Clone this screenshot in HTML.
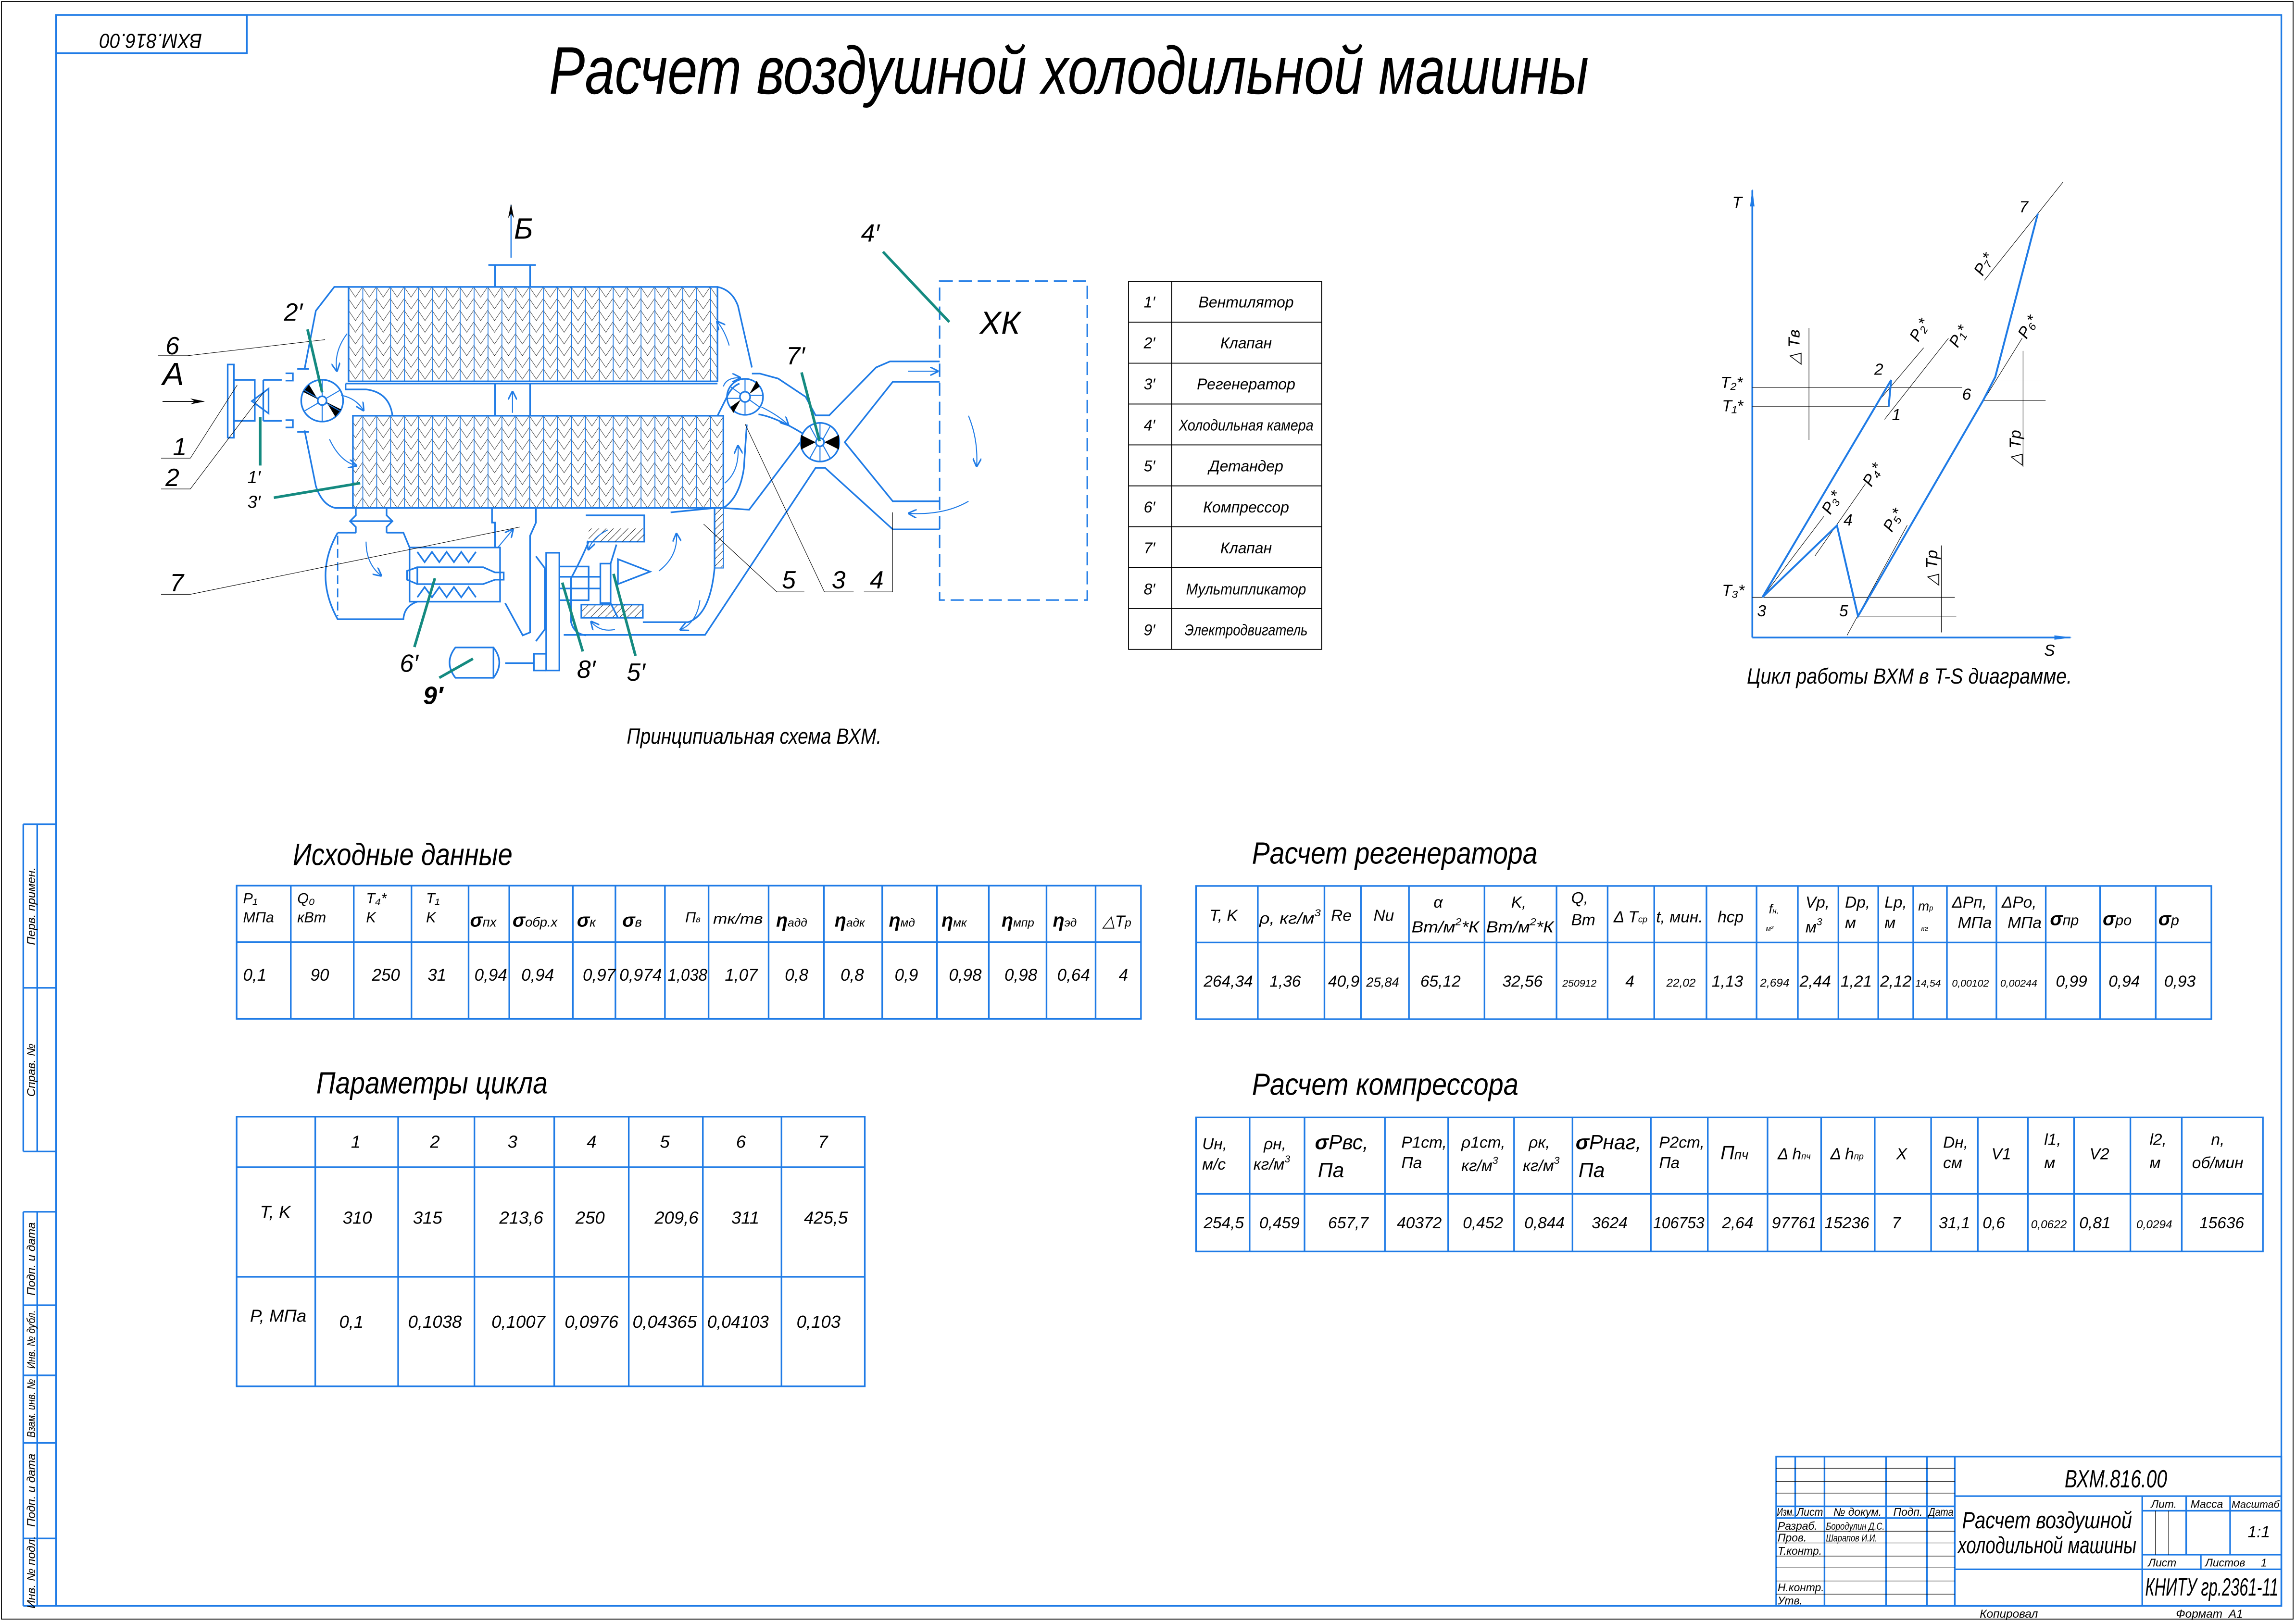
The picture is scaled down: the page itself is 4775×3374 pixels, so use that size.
<!DOCTYPE html>
<html><head><meta charset="utf-8">
<style>
html,body{margin:0;padding:0;background:#fff;}
svg{display:block;}
text{font-family:"Liberation Sans Narrow","Liberation Sans",sans-serif;font-style:italic;fill:#000;}
.w{font-family:"Liberation Sans","DejaVu Sans",sans-serif;}
.b{stroke:#1f7be6;fill:none;stroke-width:1.1;}
.bt{stroke:#1f7be6;fill:none;stroke-width:0.7;}
.k{stroke:#000;fill:none;stroke-width:0.35;}
.g{stroke:#148a80;stroke-width:1.8;fill:none;}
</style></head>
<body>
<svg width="4775" height="3374" viewBox="0 0 1568 1108" preserveAspectRatio="none" xmlns="http://www.w3.org/2000/svg">
<defs>
<pattern id="hx" patternUnits="userSpaceOnUse" width="9.5" height="16" x="238" y="196">
<path d="M0,0 L4.75,7 L9.5,0 M0,8 L4.75,15 L9.5,8 M0,16 L4.75,23 L9.5,16 M0,-8 L4.75,-1 L9.5,-8" stroke="#000" stroke-width="0.25" fill="none"/>
<line x1="0" y1="0" x2="0" y2="16" stroke="#1f7be6" stroke-width="1.1"/>
</pattern>
<pattern id="dh" patternUnits="userSpaceOnUse" width="5" height="5">
<path d="M0,5 L5,0" stroke="#000" stroke-width="0.3"/>
</pattern>
<marker id="ar" markerWidth="6" markerHeight="6" refX="5" refY="3" orient="auto" markerUnits="userSpaceOnUse">
<path d="M0,0 L6,3 L0,6" fill="none" stroke="#1f7be6" stroke-width="1"/>
</marker>
<marker id="ak" markerWidth="10" markerHeight="6" refX="9" refY="3" orient="auto" markerUnits="userSpaceOnUse">
<path d="M0,1 L10,3 L0,5 L3,3 Z" fill="#000"/>
</marker>
<marker id="ab" markerWidth="12" markerHeight="6" refX="11" refY="3" orient="auto" markerUnits="userSpaceOnUse">
<path d="M0,1.5 L12,3 L0,4.5 Z" fill="#1f7be6"/>
</marker>
</defs>

<rect x="1" y="1" width="1565" height="1105" fill="none" stroke="#000" stroke-width="0.6"/>
<rect x="38.3" y="10.2" width="1519.7" height="1086.8" class="b" stroke-width="1.3"/>
<rect x="38.3" y="10.2" width="130.3" height="26.1" class="b" stroke-width="1.3"/>
<text x="103" y="23.5" font-size="14" text-anchor="middle" transform="rotate(180 103 23.3)" textLength="70" lengthAdjust="spacingAndGlyphs">ВХМ.816.00</text>

<g class="b" stroke-width="1.2">
<line x1="15.9" y1="563" x2="15.9" y2="786.6"/><line x1="25.4" y1="563" x2="25.4" y2="786.6"/>
<line x1="15.9" y1="563" x2="38.3" y2="563"/><line x1="15.9" y1="674.8" x2="38.3" y2="674.8"/><line x1="15.9" y1="786.6" x2="38.3" y2="786.6"/>
<line x1="15.9" y1="827.8" x2="15.9" y2="1097"/><line x1="25.4" y1="827.8" x2="25.4" y2="1097"/>
<line x1="15.9" y1="827.8" x2="38.3" y2="827.8"/><line x1="15.9" y1="891.6" x2="38.3" y2="891.6"/><line x1="15.9" y1="939.5" x2="38.3" y2="939.5"/><line x1="15.9" y1="985.6" x2="38.3" y2="985.6"/><line x1="15.9" y1="1050.9" x2="38.3" y2="1050.9"/><line x1="15.9" y1="1097" x2="38.3" y2="1097"/>
</g>
<g font-size="8">
<text transform="translate(24,619) rotate(-90)" text-anchor="middle">Перв. примен.</text>
<text transform="translate(24,731) rotate(-90)" text-anchor="middle">Справ. №</text>
<text transform="translate(24,860) rotate(-90)" text-anchor="middle">Подп. и дата</text>
<text transform="translate(24,915) rotate(-90)" text-anchor="middle" textLength="40" lengthAdjust="spacingAndGlyphs">Инв. № дубл.</text>
<text transform="translate(24,962) rotate(-90)" text-anchor="middle" textLength="40" lengthAdjust="spacingAndGlyphs">Взам. инв. №</text>
<text transform="translate(24,1018) rotate(-90)" text-anchor="middle">Подп. и дата</text>
<text transform="translate(24,1074) rotate(-90)" text-anchor="middle">Инв. № подл.</text>
</g>

<text x="375" y="64" font-size="46" textLength="710" lengthAdjust="spacingAndGlyphs">Расчет воздушной холодильной машины</text>

<!-- SCHEMATIC -->
<rect x="238" y="196" width="252" height="64.5" style="fill:url(#hx)" class="b"/>
<rect x="241" y="284" width="253" height="63" style="fill:url(#hx)" class="b"/>
<path class="b" d="M238,196 L228.3,196 L215.7,212.3 L208,252 M208,294 L215.7,332 Q220,345 229,347 L241,347"/>
<path class="b" d="M490,196 Q500,198 504,209 L513.5,251"/>
<path class="b" d="M494,347 L511.6,348.2 L546.5,302 M494,347 Q505,340 508,320 L510,290"/>
<path class="b" d="M236,262 L490,262 M236,262 L236,266 L250,266 Q266,268 268,284"/>
<path class="b" d="M490,284 L497,270 Q500,264 505,262"/>
<line class="b" x1="338" y1="262" x2="338" y2="284"/><line class="b" x1="362" y1="262" x2="362" y2="284"/>
<line class="bt" x1="350" y1="282" x2="350" y2="268" marker-end="url(#ar)"/>
<path class="b" d="M338,196 L338,181 L362,181 L362,196 M333.5,181 L366,181"/>
<line x1="349" y1="176" x2="349" y2="140" stroke="#1f7be6" stroke-width="0.8" marker-end="url(#ak)"/>
<text x="351" y="163" font-size="20">Б</text>
<rect class="b" x="155.5" y="249" width="4.2" height="50"/>
<path class="b" d="M159.7,259.5 L174,259.5 L174,287.5 L159.7,287.5 M179.8,259.5 L192.4,259.5 M179.8,287.5 L192.4,287.5 M179.8,259.5 L179.8,287.5 M195,255 L200,255 L200,260 L195,260 M195,287 L200,287 L200,292 L195,292 M203,252 L211,252 M203,295 L211,295"/>
<path class="b" d="M183.4,265.5 L172,274 L183.4,282.4 Z"/>
<line x1="111" y1="274.2" x2="139" y2="274.2" stroke="#000" stroke-width="0.6" marker-end="url(#ak)"/>
<text x="111" y="263" font-size="22" font-style="normal">А</text>
<g transform="translate(220,273.7)">
<circle r="14.3" class="b"/><circle r="3" class="b"/>
<path d="M-3,-1 L-13,-6 L-9,-11 Z M3,1 L13,6 L9,11 Z" fill="#000"/>
<path class="bt" d="M0,-3 L0,-14 M2.6,-1.5 L12,-7 M-2.6,1.5 L-12,7 M0,3 L0,14 M-2.6,-1.5 L-12,-7 M2.6,1.5 L12,7"/>
</g>
<g transform="translate(508.8,271.1)">
<circle r="12.3" class="b"/><circle r="3.5" class="b"/>
<path d="M3,-2 L10,-7 L8,-11 Z M-3,2 L-10,7 L-8,11 Z" fill="#000"/>
<path class="bt" d="M0,-3.5 L0,-12 M0,3.5 L0,12 M-3,-2 L-10,-7 M3,2 L10,7 M-3,1 L-12,1 M3,-1 L12,-1"/>
</g>
<path class="b" d="M513.5,255.2 L519,255.2 L531.4,258.6 L550.2,271.1 L557,283.7 L566.3,283.7 L598.3,251 L607.8,246.9 L641.7,246.9"/>
<path class="b" d="M518,283 Q530,285 548,296"/>
<g transform="translate(560,302.1)">
<circle r="13.2" class="b"/><circle r="2.8" class="b"/>
<path d="M-3,0 L-13,-5 L-13,5 Z M3,0 L13,-5 L13,5 Z" fill="#000"/>
<path class="bt" d="M0,2.8 L0,13 M-2,2 L-7,11 M2,2 L7,11 M0,-2.8 L0,-13 M-2,-2 L-7,-11 M2,-2 L7,-11"/>
</g>
<path class="b" d="M641.7,260.8 L609.7,260.8 L576.9,302.1 L609.7,342.4 L641.7,342.4"/>
<path class="b" d="M641.7,361.6 L609.7,361.6 L563.5,319.6 L557,319.6 L481.5,433.7 L385,433.7"/>
<rect x="641.7" y="192" width="100.8" height="217.9" fill="none" stroke="#1f7be6" stroke-width="1" stroke-dasharray="9,4"/>
<text x="669" y="228" font-size="22">ХК</text>
<line class="bt" x1="620" y1="253.6" x2="640" y2="253.6" marker-end="url(#ar)"/>
<path class="bt" d="M661.4,284 Q668,300 667,318" marker-end="url(#ar)"/>
<path class="bt" d="M661.4,342.4 Q645,352 621,350.7" marker-end="url(#ar)"/>
<path class="bt" d="M237,228 Q228,240 230,253" marker-end="url(#ar)"/>
<path class="bt" d="M225,300 Q232,315 243,318" marker-end="url(#ar)"/>
<path class="bt" d="M233,270 Q243,272 248,280" marker-end="url(#ar)"/>
<path class="bt" d="M498,236 Q495,226 490,220" marker-end="url(#ar)"/>
<path class="bt" d="M494,264 Q496,258 505,258" marker-end="url(#ar)"/>
<path class="bt" d="M520,278 Q532,284 538,290" marker-end="url(#ar)"/>
<path class="bt" d="M495,330 Q505,322 504,305" marker-end="url(#ar)"/>
<path class="b" d="M243,347 L243,352 L239,356 L243,360 L243,364 M264,347 L264,352 L268,356 L264,360 L264,364 M239,356 L268,356"/>
<path class="b" d="M230.6,363.9 L243,363.9 M264,363.9 L275.5,363.9 L279.7,374 M230.6,363.9 Q214,393 230.6,423 L275.5,423 Q276,414 285,411"/>
<line x1="230.6" y1="366" x2="230.6" y2="421" stroke="#1f7be6" stroke-width="0.9" stroke-dasharray="6,3"/>
<path class="bt" d="M250,370 Q250,385 260,393" marker-end="url(#ar)"/>
<rect class="b" x="279.7" y="374" width="61.8" height="37"/>
<path class="b" d="M285,377 L290,384 L295,377 L300,384 L305,377 L310,384 L315,377 L320,384 L325,377 M285,408 L290,401 L295,408 L300,401 L305,408 L310,401 L315,408 L320,401 L325,408"/>
<path class="b" d="M285,387.5 L330,387.5 L338,391 L344,391 L344,396 L338,396 L330,399 L285,399 Z M285,387.5 L278,390 L278,396 L285,399"/>
<path class="b" d="M336,347 L336,357 L338,357 L338,374 M366,347 L366,357 L362,366 L362,432 L357,434 L345,412"/>
<path class="bt" d="M340,374 Q345,368 350,362" marker-end="url(#ar)"/>
<rect class="b" x="373" y="377.6" width="9" height="80.4"/>
<path class="b" d="M373,446.6 L364.6,446.6 L364.6,458 L373,458"/>
<path class="b" d="M366,380 L372,388 L372,430 L366,438"/>
<path class="b" d="M311,442.3 L337,442.3 Q345,452.6 337,463 L311,463 Q303,452.6 311,442.3 Z M337,442.3 L337,463"/>
<line class="b" x1="345" y1="453" x2="364.6" y2="453"/>
<path class="b" d="M400,352 L440,352 L440,370 L402,370 Q398,380 390,395 L390,425 Q392,433 400,434"/>
<rect x="402" y="361" width="38" height="9" style="fill:url(#dh)" stroke="none"/>
<rect x="397" y="413" width="42" height="9" style="fill:url(#dh)" class="b"/>
<path class="b" d="M382,387 L402,387 L402,410 L382,410 M382,394 L410,394 M382,402 L410,402"/>
<rect class="b" x="410" y="385" width="7" height="27"/>
<path class="b" d="M422,382 L444,390.5 L422,399 Z"/>
<path class="b" d="M417,385 L421,372 M417,412 L422,422"/>
<path class="b" d="M458,350 L488,347 L488,388 Q485,420 470,425 L439,425"/>
<rect x="488" y="347" width="6" height="41" style="fill:url(#dh)" class="bt"/>
<path class="bt" d="M415,362 Q405,367 402,375" marker-end="url(#ar)"/>
<path class="bt" d="M450,390 Q463,380 462,365" marker-end="url(#ar)"/>
<path class="bt" d="M420,430 Q410,432 404,425" marker-end="url(#ar)"/>
<path class="bt" d="M478,410 Q476,425 465,430" marker-end="url(#ar)"/>
<g class="k">
<path d="M108,243 L128,243 L222,232"/>
<path d="M110,313 L130,313 L162,263"/>
<path d="M110,334 L130,334 L180,268"/>
<path d="M110,406 L130,406 L355,360"/>
<path d="M530.5,404.3 L549.3,404.3 M530.5,404.3 L480.5,358"/>
<path d="M563,404.3 L583,404.3 M563,404.3 L508.8,289.6"/>
<path d="M590,404.3 L609.6,404.3 L609.6,350"/>
</g>
<g class="g">
<line x1="210" y1="225" x2="220" y2="268"/>
<line x1="177.7" y1="285" x2="177.7" y2="318"/>
<line x1="187" y1="340" x2="246" y2="330"/>
<line x1="547.4" y1="254.4" x2="559.7" y2="301.4"/>
<line x1="603" y1="172" x2="648.3" y2="220"/>
<line x1="283" y1="442" x2="297" y2="395"/>
<line x1="300" y1="463" x2="323" y2="450"/>
<line x1="398" y1="445" x2="384" y2="398"/>
<line x1="434" y1="448" x2="419" y2="392"/>
</g>
<g font-size="17">
<text x="113" y="242">6</text>
<text x="118" y="311">1</text>
<text x="113" y="332">2</text>
<text x="116" y="404">7</text>
<text x="534" y="402">5</text>
<text x="568" y="402">3</text>
<text x="594" y="402">4</text>
<text x="194" y="219">2′</text>
<text x="537" y="249">7′</text>
<text x="588" y="165">4′</text>
<text x="273" y="459">6′</text>
<text x="394" y="463">8′</text>
<text x="428" y="465">5′</text>
<text x="289" y="481" font-weight="bold">9′</text>
</g>
<g font-size="12">
<text x="169" y="330">1′</text>
<text x="169" y="347">3′</text>
</g>
<text x="428" y="508" font-size="15" textLength="174" lengthAdjust="spacingAndGlyphs">Принципиальная схема ВХМ.</text>

<!-- legend -->
<g stroke="#000" stroke-width="0.6" fill="none">
<rect x="770.7" y="192.2" width="131.9" height="251.4"/>
<line x1="800.2" y1="192.2" x2="800.2" y2="443.6"/>
<line x1="770.7" y1="220.1" x2="902.6" y2="220.1"/><line x1="770.7" y1="248.1" x2="902.6" y2="248.1"/><line x1="770.7" y1="276" x2="902.6" y2="276"/><line x1="770.7" y1="303.9" x2="902.6" y2="303.9"/><line x1="770.7" y1="331.9" x2="902.6" y2="331.9"/><line x1="770.7" y1="359.8" x2="902.6" y2="359.8"/><line x1="770.7" y1="387.7" x2="902.6" y2="387.7"/><line x1="770.7" y1="415.7" x2="902.6" y2="415.7"/>
</g>
<g font-size="10.5" class="w" text-anchor="middle">
<text x="785" y="210">1′</text><text x="851" y="210">Вентилятор</text>
<text x="785" y="238">2′</text><text x="851" y="238">Клапан</text>
<text x="785" y="266">3′</text><text x="851" y="266">Регенератор</text>
<text x="785" y="294">4′</text><text x="851" y="294" textLength="92" lengthAdjust="spacingAndGlyphs">Холодильная камера</text>
<text x="785" y="322">5′</text><text x="851" y="322">Детандер</text>
<text x="785" y="350">6′</text><text x="851" y="350">Компрессор</text>
<text x="785" y="378">7′</text><text x="851" y="378">Клапан</text>
<text x="785" y="406">8′</text><text x="851" y="406" textLength="82" lengthAdjust="spacingAndGlyphs">Мультипликатор</text>
<text x="785" y="434">9′</text><text x="851" y="434" textLength="84" lengthAdjust="spacingAndGlyphs">Электродвигатель</text>
</g>

<!-- T-S -->
<line x1="1196.7" y1="435.5" x2="1196.7" y2="130" stroke="#1f7be6" stroke-width="1.2" marker-end="url(#ab)"/>
<line x1="1196.7" y1="435.5" x2="1414" y2="435.5" stroke="#1f7be6" stroke-width="1.2" marker-end="url(#ab)"/>
<g class="k" stroke-width="0.4">
<line x1="1196.7" y1="264.8" x2="1340" y2="264.8"/>
<line x1="1196.7" y1="277.8" x2="1289.8" y2="277.8"/>
<line x1="1291.5" y1="259.6" x2="1394" y2="259.6"/>
<line x1="1354.3" y1="273.6" x2="1397" y2="273.6"/>
<line x1="1196.7" y1="408" x2="1335" y2="408"/>
<line x1="1268.9" y1="420.9" x2="1336" y2="420.9"/>
<line x1="1235.4" y1="224" x2="1235.4" y2="300.5"/>
<line x1="1381.6" y1="239.7" x2="1381.6" y2="319"/>
<line x1="1325.8" y1="372.6" x2="1325.8" y2="432"/>
<line x1="1281.9" y1="275.2" x2="1313.7" y2="237.6"/>
<line x1="1287" y1="286.5" x2="1330.7" y2="231"/>
<line x1="1355.2" y1="191.5" x2="1408.8" y2="124.5"/>
<line x1="1354.3" y1="274" x2="1381" y2="231"/>
<line x1="1203.6" y1="408" x2="1245.5" y2="352.8"/>
<line x1="1239.6" y1="379.6" x2="1274" y2="330.4"/>
<line x1="1261.4" y1="434" x2="1302.5" y2="358.8"/>
</g>
<path d="M1203.6,408 L1291.5,259.6 L1289.8,277.8 M1203.6,408 L1254.5,359 L1268.9,420.9 L1354.3,273.6 L1362.6,257.5 L1391.7,145.9" fill="none" stroke="#1f7be6" stroke-width="1.3"/>
<g font-size="11">
<text x="1183" y="142">T</text>
<text x="1175" y="265">T₂*</text>
<text x="1176" y="281">T₁*</text>
<text x="1176" y="407">T₃*</text>
<text x="1280" y="256">2</text>
<text x="1292" y="287">1</text>
<text x="1340" y="273">6</text>
<text x="1379" y="145">7</text>
<text x="1259" y="359">4</text>
<text x="1200" y="421">3</text>
<text x="1256" y="421">5</text>
<text x="1396" y="448">S</text>
<text transform="translate(1229,249) rotate(-90)">△ Tв</text>
<text transform="translate(1380,318) rotate(-90)">△ Tр</text>
<text transform="translate(1323,400) rotate(-90)">△ Tр</text>
<text transform="translate(1310,234) rotate(-60)">P₂*</text>
<text transform="translate(1337,238) rotate(-60)">P₁*</text>
<text transform="translate(1354,189) rotate(-60)">P₇*</text>
<text transform="translate(1384,232) rotate(-60)">P₆*</text>
<text transform="translate(1250,352) rotate(-60)">P₃*</text>
<text transform="translate(1278,333) rotate(-60)">P₄*</text>
<text transform="translate(1292,364) rotate(-60)">P₅*</text>
</g>
<text x="1193" y="467" font-size="15" textLength="222" lengthAdjust="spacingAndGlyphs">Цикл работы ВХМ в T-S диаграмме.</text>

<!-- TABLE 1 -->
<text x="200" y="591" font-size="21" textLength="150" lengthAdjust="spacingAndGlyphs">Исходные данные</text>
<g class="b" stroke-width="1.1">
<rect x="161.6" y="605" width="617.6" height="91"/>
<line x1="161.6" y1="643.6" x2="779.2" y2="643.6"/>
<path d="M198.6,605V696 M241.6,605V696 M281,605V696 M320,605V696 M347.8,605V696 M391.2,605V696 M420.3,605V696 M454.1,605V696 M483.9,605V696 M524.9,605V696 M562.7,605V696 M602.5,605V696 M639.9,605V696 M675.3,605V696 M714.7,605V696 M748.2,605V696"/>
</g>
<g font-size="10">
<text x="166" y="617">P₁</text><text x="166" y="630">МПа</text>
<text x="203" y="617">Q₀</text><text x="203" y="630">кВт</text>
<text x="250" y="617">T₄*</text><text x="250" y="630">K</text>
<text x="291" y="617">T₁</text><text x="291" y="630">K</text>
<text x="468" y="630">П<tspan font-size="6">в</tspan></text>
<text x="487" y="631" textLength="34" lengthAdjust="spacingAndGlyphs">mк/mв</text>
</g>
<g font-size="13">
<text x="321" y="633"><tspan font-weight="bold">σ</tspan><tspan font-size="9">пх</tspan></text>
<text x="350" y="633"><tspan font-weight="bold">σ</tspan><tspan font-size="9">обр.х</tspan></text>
<text x="394" y="633"><tspan font-weight="bold">σ</tspan><tspan font-size="9">к</tspan></text>
<text x="425" y="633"><tspan font-weight="bold">σ</tspan><tspan font-size="9">в</tspan></text>
<text x="530" y="633"><tspan font-weight="bold">η</tspan><tspan font-size="8">адд</tspan></text>
<text x="570" y="633"><tspan font-weight="bold">η</tspan><tspan font-size="8">адк</tspan></text>
<text x="607" y="633"><tspan font-weight="bold">η</tspan><tspan font-size="8">мд</tspan></text>
<text x="643" y="633"><tspan font-weight="bold">η</tspan><tspan font-size="8">мк</tspan></text>
<text x="684" y="633"><tspan font-weight="bold">η</tspan><tspan font-size="8">мпр</tspan></text>
<text x="719" y="633"><tspan font-weight="bold">η</tspan><tspan font-size="8">эд</tspan></text>
<text x="753" y="633" font-size="11">△T<tspan font-size="8">р</tspan></text>
</g>
<g font-size="11.5">
<text x="166" y="670">0,1</text><text x="212" y="670">90</text><text x="254" y="670">250</text><text x="292" y="670">31</text>
<text x="324" y="670">0,94</text><text x="356" y="670">0,94</text><text x="398" y="670">0,97</text><text x="423" y="670" textLength="29" lengthAdjust="spacingAndGlyphs">0,974</text>
<text x="456" y="670" textLength="27" lengthAdjust="spacingAndGlyphs">1,038</text><text x="495" y="670">1,07</text><text x="536" y="670">0,8</text><text x="574" y="670">0,8</text>
<text x="611" y="670">0,9</text><text x="648" y="670">0,98</text><text x="686" y="670">0,98</text><text x="722" y="670">0,64</text><text x="764" y="670">4</text>
</g>

<!-- TABLE 2 -->
<text x="216" y="747" font-size="21" textLength="158" lengthAdjust="spacingAndGlyphs">Параметры цикла</text>
<g class="b" stroke-width="1.1">
<rect x="161.6" y="762.8" width="429" height="184.2"/>
<line x1="161.6" y1="797.3" x2="590.6" y2="797.3"/><line x1="161.6" y1="872.2" x2="590.6" y2="872.2"/>
<path d="M215.3,762.8V947 M271.9,762.8V947 M324,762.8V947 M378.5,762.8V947 M429.4,762.8V947 M480,762.8V947 M533.7,762.8V947"/>
</g>
<g font-size="12" text-anchor="middle">
<text x="243" y="784">1</text><text x="297" y="784">2</text><text x="350" y="784">3</text><text x="404" y="784">4</text><text x="454" y="784">5</text><text x="506" y="784">6</text><text x="562" y="784">7</text>
<text x="188" y="832">T, K</text>
<text x="244" y="836">310</text><text x="292" y="836">315</text><text x="356" y="836">213,6</text><text x="403" y="836">250</text><text x="462" y="836">209,6</text><text x="509" y="836">311</text><text x="564" y="836">425,5</text>
<text x="190" y="903">P, МПа</text>
<text x="240" y="907">0,1</text><text x="297" y="907">0,1038</text><text x="354" y="907">0,1007</text><text x="404" y="907">0,0976</text><text x="454" y="907" textLength="44" lengthAdjust="spacingAndGlyphs">0,04365</text><text x="504" y="907" textLength="42" lengthAdjust="spacingAndGlyphs">0,04103</text><text x="559" y="907">0,103</text>
</g>

<!-- TABLE 3 -->
<text x="855" y="590" font-size="21" textLength="195" lengthAdjust="spacingAndGlyphs">Расчет регенератора</text>
<g class="b" stroke-width="1.1">
<rect x="816.8" y="605.2" width="693.4" height="91"/>
<line x1="816.8" y1="643.8" x2="1510.2" y2="643.8"/>
<path d="M859,605.2V696.2 M904.5,605.2V696.2 M929.4,605.2V696.2 M962.2,605.2V696.2 M1013.8,605.2V696.2 M1063,605.2V696.2 M1097.9,605.2V696.2 M1129.7,605.2V696.2 M1165.4,605.2V696.2 M1199.6,605.2V696.2 M1227.8,605.2V696.2 M1255.5,605.2V696.2 M1282.7,605.2V696.2 M1306.6,605.2V696.2 M1329.6,605.2V696.2 M1363.4,605.2V696.2 M1397.1,605.2V696.2 M1434.2,605.2V696.2 M1472.2,605.2V696.2"/>
</g>
<g font-size="11">
<text x="826" y="629">T, K</text>
<text x="860" y="631" textLength="42" lengthAdjust="spacingAndGlyphs">ρ, кг/м<tspan font-size="7" dy="-5">3</tspan></text>
<text x="909" y="629">Re</text>
<text x="938" y="629">Nu</text>
<text x="979" y="620">α</text><text x="964" y="637" textLength="46" lengthAdjust="spacingAndGlyphs">Вт/м<tspan font-size="7" dy="-5">2</tspan><tspan dy="5">*К</tspan></text>
<text x="1032" y="620">K,</text><text x="1015" y="637" textLength="46" lengthAdjust="spacingAndGlyphs">Вт/м<tspan font-size="7" dy="-5">2</tspan><tspan dy="5">*К</tspan></text>
<text x="1073" y="617">Q,</text><text x="1073" y="632">Вт</text>
<text x="1102" y="630">Δ T<tspan font-size="6">ср</tspan></text>
<text x="1131" y="630" textLength="32" lengthAdjust="spacingAndGlyphs">t, мин.</text>
<text x="1173" y="630">hср</text>
<text x="1208" y="624" font-size="9">f<tspan font-size="5">н,</tspan></text><text x="1206" y="636" font-size="5">м²</text>
<text x="1233" y="620">Vр,</text><text x="1233" y="637">м<tspan font-size="7" dy="-5">3</tspan></text>
<text x="1260" y="620">Dр,</text><text x="1260" y="634">м</text>
<text x="1287" y="620">Lр,</text><text x="1287" y="634">м</text>
<text x="1310" y="622" font-size="9">m<tspan font-size="5">р</tspan></text><text x="1312" y="636" font-size="5">кг</text>
<text x="1333" y="620">ΔPп,</text><text x="1337" y="634">МПа</text>
<text x="1367" y="620">ΔPо,</text><text x="1371" y="634">МПа</text>
<text x="1400" y="632" font-size="13"><tspan font-weight="bold">σ</tspan><tspan font-size="10">пр</tspan></text>
<text x="1436" y="632" font-size="13"><tspan font-weight="bold">σ</tspan><tspan font-size="10">ро</tspan></text>
<text x="1474" y="632" font-size="13"><tspan font-weight="bold">σ</tspan><tspan font-size="10">р</tspan></text>
</g>
<g font-size="11">
<text x="822" y="674">264,34</text><text x="867" y="674">1,36</text><text x="907" y="674">40,9</text><text x="933" y="674" font-size="9">25,84</text>
<text x="970" y="674">65,12</text><text x="1026" y="674">32,56</text><text x="1067" y="674" font-size="7">250912</text><text x="1110" y="674">4</text>
<text x="1138" y="674" font-size="8">22,02</text><text x="1169" y="674">1,13</text><text x="1202" y="674" font-size="8">2,694</text><text x="1229" y="674">2,44</text>
<text x="1257" y="674">1,21</text><text x="1284" y="674">2,12</text><text x="1308" y="674" font-size="7">14,54</text><text x="1333" y="674" font-size="7">0,00102</text>
<text x="1366" y="674" font-size="7">0,00244</text><text x="1404" y="674">0,99</text><text x="1440" y="674">0,94</text><text x="1478" y="674">0,93</text>
</g>

<!-- TABLE 4 -->
<text x="855" y="748" font-size="21" textLength="182" lengthAdjust="spacingAndGlyphs">Расчет компрессора</text>
<g class="b" stroke-width="1.1">
<rect x="816.8" y="763.3" width="728.6" height="91.6"/>
<line x1="816.8" y1="815.5" x2="1545.4" y2="815.5"/>
<path d="M853.4,763.3V854.9 M890.9,763.3V854.9 M945.8,763.3V854.9 M989,763.3V854.9 M1034,763.3V854.9 M1073.9,763.3V854.9 M1127.4,763.3V854.9 M1166.3,763.3V854.9 M1207.1,763.3V854.9 M1243.7,763.3V854.9 M1280.3,763.3V854.9 M1318.8,763.3V854.9 M1350.7,763.3V854.9 M1384.9,763.3V854.9 M1416.4,763.3V854.9 M1454.9,763.3V854.9 M1490,763.3V854.9"/>
</g>
<g font-size="11">
<text x="821" y="785">Uн,</text><text x="821" y="799">м/с</text>
<text x="863" y="785">ρн,</text><text x="856" y="799">кг/м<tspan font-size="7" dy="-5">3</tspan></text>
<text x="898" y="785" font-size="14"><tspan font-weight="bold">σ</tspan>Pвс,</text><text x="900" y="804" font-size="14">Па</text>
<text x="957" y="784">P1ст,</text><text x="957" y="798">Па</text>
<text x="998" y="784">ρ1ст,</text><text x="998" y="800">кг/м<tspan font-size="7" dy="-5">3</tspan></text>
<text x="1044" y="784">ρк,</text><text x="1040" y="800">кг/м<tspan font-size="7" dy="-5">3</tspan></text>
<text x="1076" y="785" font-size="14"><tspan font-weight="bold">σ</tspan>Pнаг,</text><text x="1078" y="804" font-size="14">Па</text>
<text x="1133" y="784">P2ст,</text><text x="1133" y="798">Па</text>
<text x="1175" y="792" font-size="13">П<tspan font-size="9">пч</tspan></text>
<text x="1214" y="792">Δ h<tspan font-size="6">пч</tspan></text>
<text x="1250" y="792">Δ h<tspan font-size="6">пр</tspan></text>
<text x="1295" y="792">X</text>
<text x="1327" y="784">Dн,</text><text x="1327" y="798">см</text>
<text x="1360" y="792">V1</text>
<text x="1396" y="782">l1,</text><text x="1396" y="798">м</text>
<text x="1427" y="792">V2</text>
<text x="1468" y="782">l2,</text><text x="1468" y="798">м</text>
<text x="1510" y="782">n,</text><text x="1497" y="798">об/мин</text>
</g>
<g font-size="11">
<text x="822" y="839">254,5</text><text x="860" y="839">0,459</text><text x="907" y="839">657,7</text><text x="954" y="839">40372</text>
<text x="999" y="839">0,452</text><text x="1041" y="839">0,844</text><text x="1087" y="839">3624</text><text x="1129" y="839" textLength="35" lengthAdjust="spacingAndGlyphs">106753</text>
<text x="1176" y="839">2,64</text><text x="1210" y="839">97761</text><text x="1246" y="839">15236</text><text x="1292" y="839">7</text>
<text x="1324" y="839">31,1</text><text x="1354" y="839">0,6</text><text x="1387" y="839" font-size="8">0,0622</text><text x="1420" y="839">0,81</text>
<text x="1459" y="839" font-size="8">0,0294</text><text x="1502" y="839">15636</text>
</g>

<!-- TITLE BLOCK -->
<g class="b" stroke-width="1.2">
<rect x="1213" y="995" width="345" height="102"/>
<line x1="1335" y1="995" x2="1335" y2="1097"/>
<line x1="1226" y1="995" x2="1226" y2="1037"/>
<path d="M1246,995V1097 M1288,995V1097 M1316,995V1097"/>
<line x1="1213" y1="1029" x2="1335" y2="1029"/>
<line x1="1213" y1="1037" x2="1335" y2="1037"/>
<line x1="1335" y1="1022" x2="1558" y2="1022"/>
<line x1="1335" y1="1072" x2="1558" y2="1072"/>
<line x1="1463" y1="1022" x2="1463" y2="1097"/>
<line x1="1463" y1="1032" x2="1558" y2="1032"/>
<line x1="1463" y1="1062" x2="1558" y2="1062"/>
<path d="M1493,1022V1062 M1523,1022V1062 M1503,1062V1072"/>
</g>
<g stroke="#000" stroke-width="0.35">
<path d="M1213,1003H1335 M1213,1012H1335 M1213,1020H1335 M1213,1046H1335 M1213,1054H1335 M1213,1063H1335 M1213,1071H1335 M1213,1080H1335 M1213,1089H1335 M1472,1032V1062 M1481,1032V1062"/>
</g>
<g font-size="7.5">
<text x="1213.5" y="1035.5" textLength="12" lengthAdjust="spacingAndGlyphs">Изм.</text><text x="1227" y="1035.5" textLength="18" lengthAdjust="spacingAndGlyphs">Лист</text><text x="1252" y="1035.5">№ докум.</text><text x="1293" y="1035.5">Подп.</text><text x="1317" y="1035.5" textLength="17" lengthAdjust="spacingAndGlyphs">Дата</text>
<text x="1214" y="1045">Разраб.</text><text x="1247" y="1045" font-size="7" textLength="40" lengthAdjust="spacingAndGlyphs">Бородулин Д.С.</text>
<text x="1214" y="1053">Пров.</text><text x="1247" y="1053" font-size="7" textLength="35" lengthAdjust="spacingAndGlyphs">Шарапов И.И.</text>
<text x="1214" y="1062">Т.контр.</text>
<text x="1214" y="1087">Н.контр.</text>
<text x="1214" y="1096">Утв.</text>
<text x="1469" y="1030">Лит.</text><text x="1496" y="1030">Масса</text><text x="1524" y="1030" font-size="7">Масштаб</text>
<text x="1467" y="1070">Лист</text><text x="1506" y="1070">Листов</text><text x="1544" y="1070">1</text>
</g>
<text x="1535" y="1050" font-size="11">1:1</text>
<text x="1410" y="1016" font-size="17" textLength="70" lengthAdjust="spacingAndGlyphs">ВХМ.816.00</text>
<text x="1340" y="1044" font-size="16" textLength="116" lengthAdjust="spacingAndGlyphs">Расчет воздушной</text>
<text x="1337" y="1061" font-size="16" textLength="122" lengthAdjust="spacingAndGlyphs">холодильной машины</text>
<text x="1465" y="1090" font-size="17" textLength="91" lengthAdjust="spacingAndGlyphs">КНИТУ гр.2361-11</text>
<text x="1352" y="1105" font-size="8">Копировал</text>
<text x="1486" y="1105" font-size="8">Формат</text><text x="1522" y="1105" font-size="8">А1</text>
</svg>
</body></html>
